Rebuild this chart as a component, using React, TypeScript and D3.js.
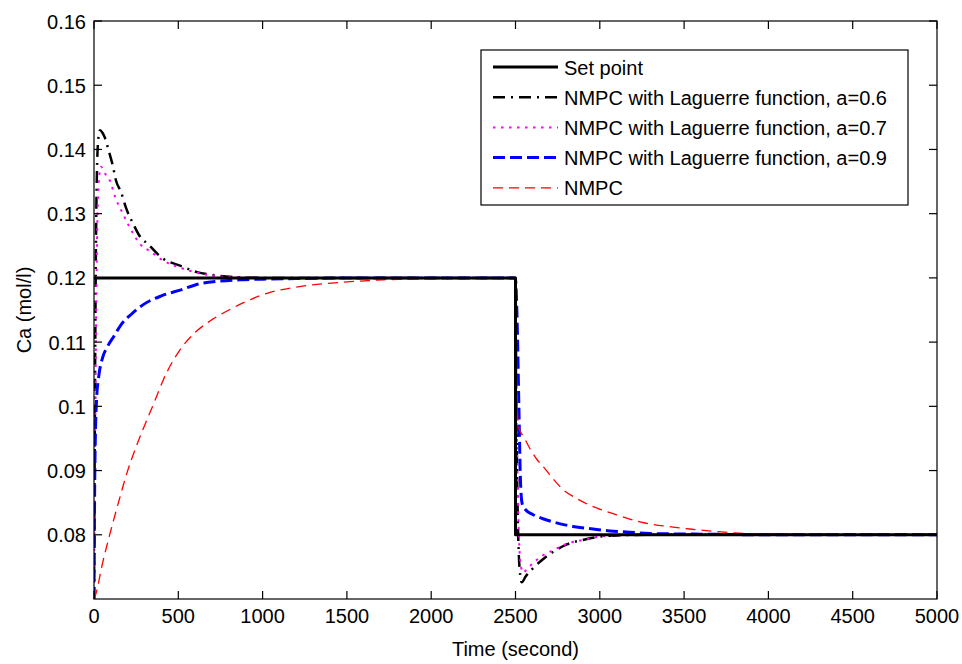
import React from "react";
import * as d3 from "d3";

// ---- data ----
const xTicks = [0, 500, 1000, 1500, 2000, 2500, 3000, 3500, 4000, 4500, 5000];
const yTicks = [0.08, 0.09, 0.1, 0.11, 0.12, 0.13, 0.14, 0.15, 0.16];
const yTickLabels = ["0.08", "0.09", "0.1", "0.11", "0.12", "0.13", "0.14", "0.15", "0.16"];

const timeSet = [0, 2500, 2500, 5000];
const caSet = [0.12, 0.12, 0.08, 0.08];

const timeA06 = [0, 8, 15, 25, 36, 50, 65, 83, 113, 130, 160, 190, 231, 279, 314, 409, 510, 611, 720, 850, 1000, 1500, 2000, 2499,
  2505, 2512, 2525, 2537, 2560, 2604, 2663, 2746, 2805, 2900, 3000, 3100, 3300, 4000, 5000];
const caA06 = [0.07, 0.112, 0.133, 0.1415, 0.143, 0.1426, 0.1418, 0.1402, 0.1373, 0.1352, 0.1334, 0.1309, 0.1285, 0.1262, 0.1254, 0.123, 0.1219, 0.1209, 0.1204, 0.1201, 0.12, 0.12, 0.12, 0.12,
  0.1, 0.085, 0.0745, 0.0726, 0.0735, 0.0748, 0.0762, 0.0777, 0.0785, 0.0792, 0.0797, 0.0799, 0.08, 0.08, 0.08];

const timeA07 = [0, 8, 18, 30, 41, 71, 95, 125, 160, 213, 279, 330, 410, 510, 611, 720, 850, 1000, 1500, 2000, 2499,
  2506, 2515, 2530, 2545, 2560, 2604, 2663, 2723, 2805, 2900, 3000, 3100, 3300, 4000, 5000];
const caA07 = [0.07, 0.1, 0.126, 0.1355, 0.1373, 0.136, 0.1351, 0.1326, 0.1306, 0.1278, 0.1251, 0.1242, 0.1227, 0.1216, 0.1208, 0.1203, 0.1201, 0.12, 0.12, 0.12, 0.12,
  0.1, 0.085, 0.0755, 0.0741, 0.0744, 0.0756, 0.0768, 0.0776, 0.0786, 0.0792, 0.0797, 0.0799, 0.08, 0.08, 0.08];

const timeA09 = [0, 5, 15, 30, 50, 80, 120, 160, 220, 290, 400, 510, 629, 747, 866, 1000, 1200, 1600, 2000, 2499,
  2510, 2520, 2530, 2540, 2560, 2600, 2663, 2723, 2841, 2960, 3060, 3178, 3300, 3600, 4000, 5000];
const caA09 = [0.07, 0.09, 0.101, 0.105, 0.1075, 0.1093, 0.111, 0.1127, 0.1143, 0.1158, 0.1172, 0.1181, 0.1191, 0.1195, 0.1197, 0.1198, 0.1199, 0.12, 0.12, 0.12,
  0.113, 0.1, 0.088, 0.0848, 0.0839, 0.0832, 0.0825, 0.082, 0.0813, 0.0809, 0.0806, 0.0804, 0.0802, 0.0801, 0.08, 0.08];

const timeNmpc = [0, 12, 50, 95, 150, 195, 250, 314, 360, 409, 510, 600, 700, 800, 900, 1026, 1162, 1323, 1459, 1578, 1714, 1856, 2000, 2499,
  2510, 2520, 2550, 2586, 2625, 2665, 2720, 2784, 2860, 2941, 3020, 3100, 3238, 3434, 3535, 3700, 3850, 4100, 4500, 5000];
const caNmpc = [0.07, 0.0709, 0.0755, 0.0802, 0.0855, 0.0896, 0.0937, 0.0979, 0.1008, 0.104, 0.1088, 0.1115, 0.1135, 0.115, 0.1163, 0.1176, 0.1184, 0.119, 0.1193, 0.1195, 0.1197, 0.1198, 0.1199, 0.12,
  0.1, 0.0966, 0.0952, 0.0934, 0.0918, 0.0906, 0.0888, 0.087, 0.0857, 0.0846, 0.0838, 0.0831, 0.082, 0.0812, 0.0809, 0.0805, 0.0802, 0.0801, 0.08, 0.08];

const seriesNames = [
  "Set point",
  "NMPC with Laguerre function, a=0.6",
  "NMPC with Laguerre function, a=0.7",
  "NMPC with Laguerre function, a=0.9",
  "NMPC",
];

// ---- layout / styles ----
const W = 962, H = 664;
const PL = 94, PR = 937, PT = 21, PB = 599;
const FONT = "'Liberation Sans', Arial, sans-serif";

const styles = [
  { color: "#000000", width: 3, dash: "none" },
  { color: "#000000", width: 2.5, dash: "12 6 2 6" },
  { color: "#ff00ff", width: 2, dash: "2.5 5.5" },
  { color: "#0000ff", width: 3, dash: "12 5" },
  { color: "#ff0000", width: 1.3, dash: "10 6" },
];

// drawing order: responses first, set point on top
const drawOrder = [1, 2, 3, 4, 0];

export default function App() {
  const x = d3.scaleLinear().domain([0, 5000]).range([PL, PR]);
  const y = d3.scaleLinear().domain([0.07, 0.16]).range([PB, PT]);

  const mk = (ts: number[], vs: number[]) => ts.map((t, i) => [t, vs[i]] as [number, number]);
  const smooth = d3.line<[number, number]>().x(d => x(d[0])).y(d => y(d[1])).curve(d3.curveMonotoneX);
  const straight = d3.line<[number, number]>().x(d => x(d[0])).y(d => y(d[1]));

  const paths = [
    straight(mk(timeSet, caSet)),
    smooth(mk(timeA06, caA06)),
    smooth(mk(timeA07, caA07)),
    smooth(mk(timeA09, caA09)),
    smooth(mk(timeNmpc, caNmpc)),
  ];

  const legX = 481, legY = 50, legW = 427, legH = 155;
  const rowY = (i: number) => 67 + i * 30.2;

  return (
    <svg width={W} height={H} style={{ position: "absolute", left: 0, top: 0, background: "#fff" }}
      fontFamily={FONT}>
      <rect x={0} y={0} width={W} height={H} fill="#fff" />
      <defs>
        <clipPath id="plotclip">
          <rect x={PL} y={PT} width={PR - PL} height={PB - PT} />
        </clipPath>
      </defs>

      <g clipPath="url(#plotclip)">
        {drawOrder.map(i => (
          <path key={i} d={paths[i] || ""} fill="none" stroke={styles[i].color} strokeWidth={styles[i].width}
            strokeDasharray={styles[i].dash} strokeLinejoin="round" />
        ))}
      </g>

      {/* axes box */}
      <rect x={PL} y={PT} width={PR - PL} height={PB - PT} fill="none" stroke="#000" strokeWidth={1.2} />

      {/* x ticks */}
      {xTicks.map(t => (
        <g key={"x" + t}>
          <line x1={x(t)} x2={x(t)} y1={PB} y2={PB - 8} stroke="#000" strokeWidth={1.2} />
          <line x1={x(t)} x2={x(t)} y1={PT} y2={PT + 8} stroke="#000" strokeWidth={1.2} />
          <text x={x(t)} y={623} fontSize={20} textAnchor="middle" fill="#000">{t}</text>
        </g>
      ))}
      {/* y ticks */}
      {yTicks.map((v, i) => (
        <g key={"y" + i}>
          <line x1={PL} x2={PL + 8} y1={y(v)} y2={y(v)} stroke="#000" strokeWidth={1.2} />
          <line x1={PR} x2={PR - 8} y1={y(v)} y2={y(v)} stroke="#000" strokeWidth={1.2} />
          <text x={86} y={y(v) + 7.5} fontSize={20} textAnchor="end" fill="#000">{yTickLabels[i]}</text>
        </g>
      ))}

      <text x={(PL + PR) / 2} y={656} fontSize={20} textAnchor="middle" fill="#000">Time (second)</text>
      <text transform={`translate(31,${(PT + PB) / 2}) rotate(-90)`} fontSize={20} textAnchor="middle" fill="#000">Ca (mol/l)</text>

      {/* legend */}
      <rect x={legX} y={legY} width={legW} height={legH} fill="#fff" stroke="#000" strokeWidth={1.2} />
      {seriesNames.map((n, i) => (
        <g key={"l" + i}>
          <line x1={493} x2={558} y1={rowY(i)} y2={rowY(i)} stroke={styles[i].color} strokeWidth={styles[i].width}
            strokeDasharray={styles[i].dash} />
          <text x={564} y={rowY(i) + 7.5} fontSize={20} fill="#000">{n}</text>
        </g>
      ))}
    </svg>
  );
}
